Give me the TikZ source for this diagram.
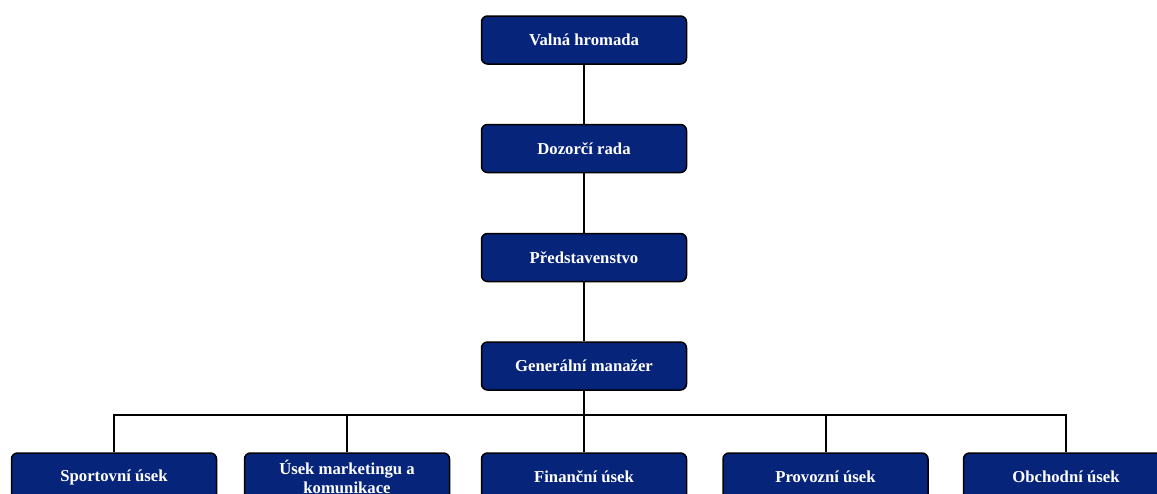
\documentclass[tikz,border=0pt]{standalone}
\usepackage{fontspec}
\setmainfont{Liberation Serif}
\definecolor{navy}{RGB}{6,36,122}
\begin{document}
\begin{tikzpicture}[x=1pt,y=-1pt,
  orgbox/.style={draw=black, line width=1.5pt, fill=navy, rounded corners=6pt,
    minimum width=205pt, minimum height=48pt, inner sep=0pt,
    text=white, font=\bfseries\fontsize{16.7}{18.5}\selectfont, align=center},
  conn/.style={line width=2pt, black}]
\useasboundingbox (0,0) rectangle (1157,493);
\clip (0,0) rectangle (1157,493);
\node[orgbox] (vh) at (584,40) {Valná hromada};
\node[orgbox] (dr) at (584,148.5) {Dozorčí rada};
\node[orgbox] (pr) at (584,257.5) {Představenstvo};
\node[orgbox] (gm) at (584,366) {Generální manažer};
\node[orgbox] (s1) at (114,477) {Sportovní úsek};
\node[orgbox] (s2) at (347,477) {Úsek marketingu a\\komunikace};
\node[orgbox] (s3) at (584,477) {Finanční úsek};
\node[orgbox] (s4) at (825.5,477) {Provozní úsek};
\node[orgbox] (s5) at (1066,477) {Obchodní úsek};
\coordinate (bus) at (584,414.5);
\draw[conn] (vh) -- (dr);
\draw[conn] (dr) -- (pr);
\draw[conn] (pr) -- (gm);
\draw[conn] (gm) -- (s3);
\draw[conn] (s1.north) |- (bus) -| (s5.north);
\draw[conn] (s2.north) -- (s2.north |- bus);
\draw[conn] (s4.north) -- (s4.north |- bus);
\end{tikzpicture}
\end{document}
